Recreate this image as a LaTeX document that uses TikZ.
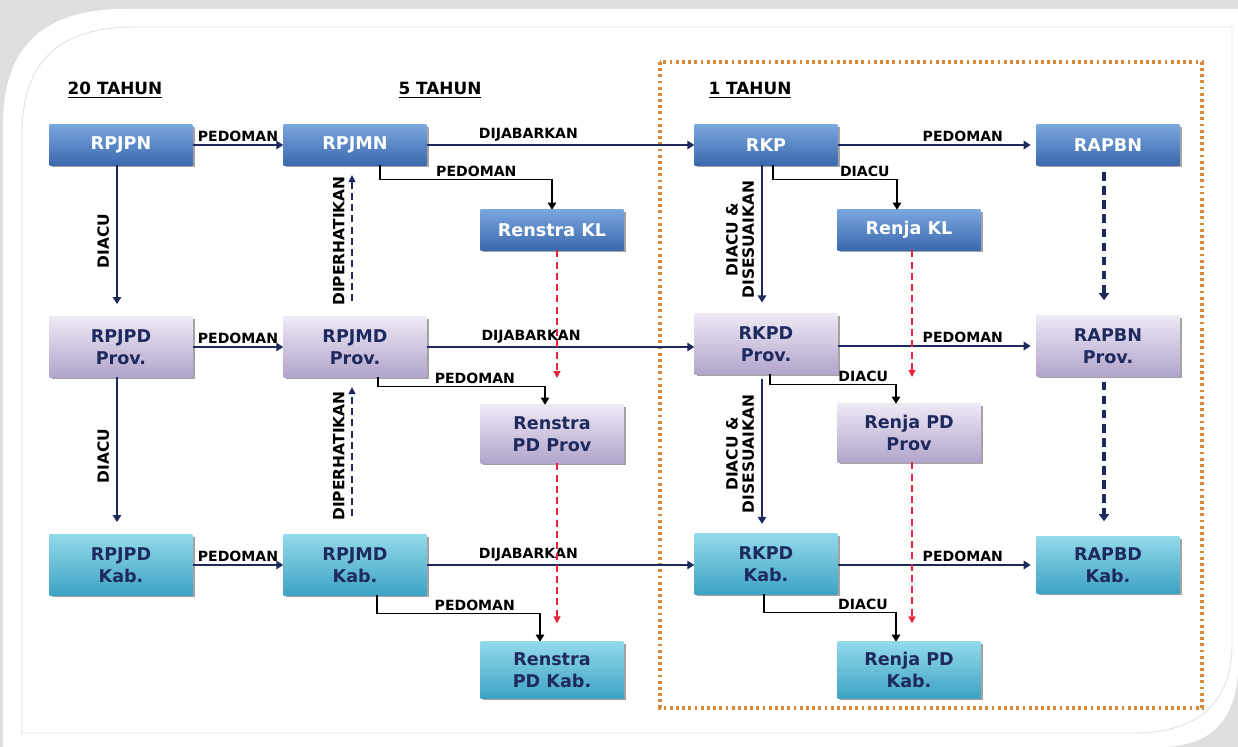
\documentclass[tikz,border=0pt]{standalone}
\usepackage{fontspec}
\setmainfont{DejaVu Sans}
\usetikzlibrary{arrows.meta,calc,shadows}

\definecolor{navy}{HTML}{1E2A5E}
\definecolor{bluetop}{HTML}{7AA6DE}
\definecolor{bluebot}{HTML}{3A69AE}
\definecolor{lavtop}{HTML}{EDE8F4}
\definecolor{lavbot}{HTML}{B2A4CC}
\definecolor{tealtop}{HTML}{92D9EA}
\definecolor{tealbot}{HTML}{3EA3C4}
\definecolor{dotorange}{HTML}{D98A3A}
\definecolor{dashred}{HTML}{E8243C}

\tikzset{
  kotak/.style={minimum width=3.57cm, align=center, inner sep=2pt,
    font=\fontsize{12.5}{15.5}\selectfont\bfseries,
    drop shadow={shadow xshift=1.5pt, shadow yshift=-1.5pt, fill=black!60, opacity=.6}},
  pusat/.style={kotak, top color=bluetop, bottom color=bluebot, text=white, minimum height=1cm},
  prov/.style={kotak, top color=lavtop, bottom color=lavbot, text=navy, minimum height=1.5cm},
  kab/.style={kotak, top color=tealtop, bottom color=tealbot, text=navy, minimum height=1.5cm},
  garis/.style={draw=navy, line width=1.3pt, -{Triangle[width=6pt,length=5pt]}},
  siku/.style={draw=black, line width=0.9pt, -{Triangle[width=6pt,length=5pt]}},
  putus/.style={draw=navy, line width=0.9pt, dash pattern=on 5pt off 3pt, -{Triangle[width=5pt,length=5pt]}},
  putusmerah/.style={draw=dashred, line width=0.9pt, dash pattern=on 5pt off 3pt, -{Triangle[width=5pt,length=5pt]}},
  putustebal/.style={draw=navy, line width=2.2pt, dash pattern=on 6pt off 4pt, -{Triangle[width=7pt,length=5pt]}},
  teks/.style={font=\fontsize{10}{11}\selectfont\bfseries, text=black, inner sep=2pt},
  tegak/.style={teks, font=\fontsize{11}{11.5}\selectfont\bfseries, rotate=90, anchor=south, align=center, inner sep=5pt},
  judul/.style={font=\fontsize{12}{14}\selectfont\bfseries, text=black}
}

\begin{document}
\begin{tikzpicture}[x=0.025cm, y=-0.025cm]
  \useasboundingbox (0,0) rectangle (1238,747);
  % latar
  \fill[black!13] (0,0) rectangle (1238,747);
  \fill[white] (3,747) -- (3,125) .. controls (3,45) and (45,9) .. (125,9) -- (1238,9)
    -- (1238,665) .. controls (1238,715) and (1215,747) .. (1160,747) -- cycle;
  \draw[black!12, line width=0.6pt] (22,733) -- (22,135) .. controls (22,60) and (60,27) .. (135,27)
    -- (1232,27) -- (1232,645) .. controls (1232,700) and (1200,733) .. (1135,733) -- cycle;
  \draw[dotorange, line width=2.2pt, dash pattern=on 2pt off 2.4pt] (660,62) rectangle (1202,708);

  \node[judul] (t20) at (115,90) {\underline{20 TAHUN}};
  \node[judul] (t5) at (440,90) {\underline{5 TAHUN}};
  \node[judul] (t1) at (750,90) {\underline{1 TAHUN}};

  \node[pusat] (rpjpn) at (121,145) {RPJPN};
  \node[pusat] (rpjmn) at (355,145) {RPJMN};
  \node[pusat] (renKL) at (552,230) {Renstra KL};
  \node[pusat] (rkp) at (766,145) {RKP};
  \node[pusat] (renjaKL) at (909,230) {Renja KL};
  \node[pusat] (rapbn) at (1108,145) {RAPBN};

  \node[prov] (rpjpdP) at (121,347) {RPJPD\\Prov.};
  \node[prov] (rpjmdP) at (355,347) {RPJMD\\Prov.};
  \node[prov, minimum height=1.45cm] (rensP) at (552,434) {Renstra\\PD Prov};
  \node[prov] (rkpdP) at (766,344) {RKPD\\Prov.};
  \node[prov, minimum height=1.45cm] (renjaP) at (909,433) {Renja PD\\Prov};
  \node[prov] (rapbnP) at (1108,346) {RAPBN\\Prov.};

  \node[kab] (rpjpdK) at (121,565) {RPJPD\\Kab.};
  \node[kab] (rpjmdK) at (355,565) {RPJMD\\Kab.};
  \node[kab, minimum height=1.4cm] (rensK) at (552,670) {Renstra\\PD Kab.};
  \node[kab] (rkpdK) at (766,564) {RKPD\\Kab.};
  \node[kab, minimum height=1.4cm] (renjaK) at (909,670) {Renja PD\\Kab.};
  \node[kab, minimum height=1.4cm] (rapbdK) at (1108,565) {RAPBD\\Kab.};

  % mendatar
  \draw[garis] (rpjpn) -- node[teks, above] {PEDOMAN} (rpjmn);
  \draw[garis] (rpjmn) -- node[teks, above, pos=0.38] {DIJABARKAN} (rkp);
  \draw[garis, shorten >=4pt] (rkp) -- node[teks, above, pos=0.63] {PEDOMAN} (rapbn);
  \draw[garis] (rpjpdP) -- node[teks, above] {PEDOMAN} (rpjmdP);
  \draw[garis] (rpjmdP.east) -- node[teks, above, pos=0.39] {DIJABARKAN} (rpjmdP.east -| rkpdP.west);
  \draw[garis, shorten >=4pt] (rkpdP.east |- rapbnP) -- node[teks, above, pos=0.63] {PEDOMAN} (rapbnP);
  \draw[garis] (rpjpdK) -- node[teks, above] {PEDOMAN} (rpjmdK);
  \draw[garis] (rpjmdK.east) -- node[teks, above, pos=0.38] {DIJABARKAN} (rpjmdK.east -| rkpdK.west);
  \draw[garis, shorten >=4pt] (rkpdK.east |- rapbdK) -- node[teks, above, pos=0.63] {PEDOMAN} (rapbdK);

  % menurun
  \draw[garis, shorten >=9pt] ($(rpjpn.south)+(-4,0)$) -- node[tegak] {DIACU} ($(rpjpdP.north)+(-4,0)$);
  \draw[garis, shorten >=9pt] ($(rpjpdP.south)+(-4,0)$) -- node[tegak] {DIACU} ($(rpjpdK.north)+(-4,0)$);
  \draw[putus, shorten <=11pt, shorten >=7pt] ($(rpjmdP.north)+(-3,0)$) -- node[tegak] {DIPERHATIKAN} ($(rpjmn.south)+(-3,0)$);
  \draw[putus, shorten <=13pt, shorten >=7pt] ($(rpjmdK.north)+(-3,0)$) -- node[tegak] {DIPERHATIKAN} ($(rpjmdP.south)+(-3,0)$);
  \draw[garis, shorten >=8pt] ($(rkp.south)+(-4,0)$) -- node[tegak] {DIACU \&\\DISESUAIKAN} ($(rkpdP.north)+(-4,0)$);
  \draw[garis, shorten <=3pt, shorten >=7pt] ($(rkpdP.south)+(-4,0)$) -- node[tegak] {DIACU \&\\DISESUAIKAN} ($(rkpdK.north)+(-4,0)$);

  \draw[putusmerah, shorten >=19pt] ($(renKL.south)+(5,0)$) -- ($(rensP.north)+(5,0)$);
  \draw[putusmerah, shorten >=13pt] ($(rensP.south)+(5,0)$) -- ($(rensK.north)+(5,0)$);
  \draw[putusmerah, shorten >=19pt] ($(renjaKL.south)+(3,0)$) -- ($(renjaP.north)+(3,0)$);
  \draw[putusmerah, shorten >=13pt] ($(renjaP.south)+(3,0)$) -- ($(renjaK.north)+(3,0)$);

  \draw[putustebal, shorten <=5pt, shorten >=11pt] ($(rapbn.south)+(-4,0)$) -- ($(rapbnP.north)+(-4,0)$);
  \draw[putustebal, shorten <=4pt, shorten >=11pt] ($(rapbnP.south)+(-4,0)$) -- ($(rapbdK.north)+(-4,0)$);

  % siku
  \draw[siku] ($(rpjmn.south)+(25,0)$) |- node[teks, above, pos=0.78] {PEDOMAN} ($(renKL.north)+(0,-30)$) -- (renKL.north);
  \draw[siku] ($(rkp.south)+(7,0)$) |- node[teks, above, pos=0.87] {DIACU} ($(renjaKL.north)+(-12,-30)$) -- ($(renjaKL.north)+(-12,0)$);
  \draw[siku] ($(rpjmdP.south)+(23,0)$) |- node[teks, above, pos=0.79] {PEDOMAN} ($(rensP.north)+(-7,-18)$) -- ($(rensP.north)+(-7,0)$);
  \draw[siku] ($(rkpdP.south)+(4,0)$) |- node[teks, above, pos=0.87] {DIACU} ($(renjaP.north)+(-13,-19)$) -- ($(renjaP.north)+(-13,0)$);
  \draw[siku] ($(rpjmdK.south)+(22,0)$) |- node[teks, above, pos=0.8] {PEDOMAN} ($(rensK.north)+(-12,-28)$) -- ($(rensK.north)+(-12,0)$);
  \draw[siku] ($(rkpdK.south)+(-2,0)$) |- node[teks, above, pos=0.875] {DIACU} ($(renjaK.north)+(-13,-29)$) -- ($(renjaK.north)+(-13,0)$);
\end{tikzpicture}
\end{document}
